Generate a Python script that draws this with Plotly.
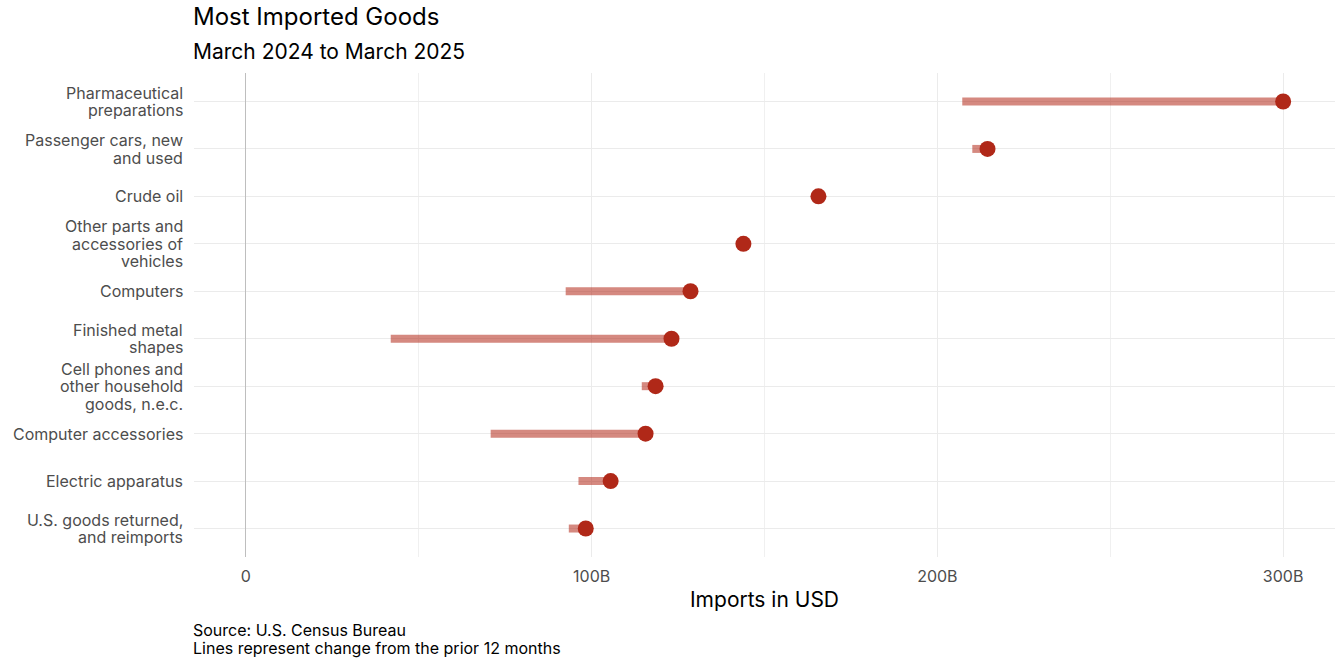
import plotly.graph_objects as go

categories = [
    "Pharmaceutical<br>preparations",
    "Passenger cars, new<br>and used",
    "Crude oil",
    "Other parts and<br>accessories of<br>vehicles",
    "Computers",
    "Finished metal<br>shapes",
    "Cell phones and<br>other household<br>goods, n.e.c.",
    "Computer accessories",
    "Electric apparatus",
    "U.S. goods returned,<br>and reimports",
]
prior_values = [207.2, 210.1, 165.3, 143.6, 92.5, 41.9, 114.5, 70.8, 96.2, 93.4]   # billions USD
current_values = [300.0, 214.5, 165.6, 143.9, 128.6, 123.1, 118.5, 115.6, 105.5, 98.3]
tick_vals = [0, 100, 200, 300]
tick_text = ["0", "100B", "200B", "300B"]
minor_vals = [50, 150, 250]

line_x, line_y = [], []
for c, p, v in zip(categories, prior_values, current_values):
    line_x += [p, v, None]
    line_y += [c, c, None]

fig = go.Figure()
fig.add_trace(go.Scatter(
    x=line_x, y=line_y, mode="lines",
    line=dict(color="rgba(178,40,24,0.55)", width=8),
    hoverinfo="skip", showlegend=False,
))
fig.add_trace(go.Scatter(
    x=current_values, y=categories, mode="markers",
    marker=dict(color="#B02818", size=16),
    showlegend=False,
))

PLOT_H = 659 - 73 - 102

fig.update_layout(
    width=1338, height=659,
    plot_bgcolor="white", paper_bgcolor="white",
    font=dict(family="Inter", color="#4d4d4d", size=16),
    margin=dict(l=194, r=3, t=73, b=102),
    xaxis=dict(
        range=[-15, 315], tickvals=tick_vals, ticktext=tick_text,
        showgrid=True, gridcolor="#ebebeb", gridwidth=1.3,
        zeroline=True, zerolinecolor="#bebebe", zerolinewidth=1.3,
        minor=dict(tickvals=minor_vals, showgrid=True, gridcolor="#f0f0f0", gridwidth=1),
        tickfont=dict(size=16, color="#4d4d4d"),
        ticklabelstandoff=8,
        title=dict(text="Imports in USD", font=dict(size=21, color="black"), standoff=7),
        ticks="", showline=False,
    ),
    yaxis=dict(
        categoryorder="array", categoryarray=categories[::-1],
        range=[-0.6, 9.6],
        showgrid=True, gridcolor="#ebebeb", gridwidth=1.3,
        showticklabels=False,
        ticks="", showline=False, zeroline=False,
    ),
)

# category labels, one line per annotation so the line spacing matches
LINE_GAP = 17.5
for c in categories:
    parts = c.split("<br>")
    n = len(parts)
    for i, part in enumerate(parts):
        fig.add_annotation(
            text=part, xref="paper", yref="y", x=0, y=c,
            xanchor="right", yanchor="middle", xshift=-9,
            yshift=((n - 1) / 2 - i) * LINE_GAP,
            showarrow=False, font=dict(family="Inter", size=16, color="#4d4d4d"),
        )

def paper_y(px):
    return 1 - (px - 73) / PLOT_H

fig.add_annotation(text="Most Imported Goods", xref="paper", yref="paper",
                   x=0, y=paper_y(17), xanchor="left", yanchor="middle", showarrow=False,
                   xshift=-3, font=dict(family="Inter", size=24, color="black"))
fig.add_annotation(text="March 2024 to March 2025", xref="paper", yref="paper",
                   x=0, y=paper_y(52), xanchor="left", yanchor="middle", showarrow=False,
                   xshift=-3, font=dict(family="Inter", size=21, color="black"))
fig.add_annotation(text="Source: U.S. Census Bureau", xref="paper", yref="paper",
                   x=0, y=paper_y(630), xanchor="left", yanchor="middle", showarrow=False,
                   xshift=-3, font=dict(family="Inter", size=16, color="black"))
fig.add_annotation(text="Lines represent change from the prior 12 months", xref="paper", yref="paper",
                   x=0, y=paper_y(648), xanchor="left", yanchor="middle", showarrow=False,
                   xshift=-3, font=dict(family="Inter", size=16, color="black"))

fig.write_html("out.html", post_script="document.body.style.margin='0';",
               config={"displayModeBar": False})
